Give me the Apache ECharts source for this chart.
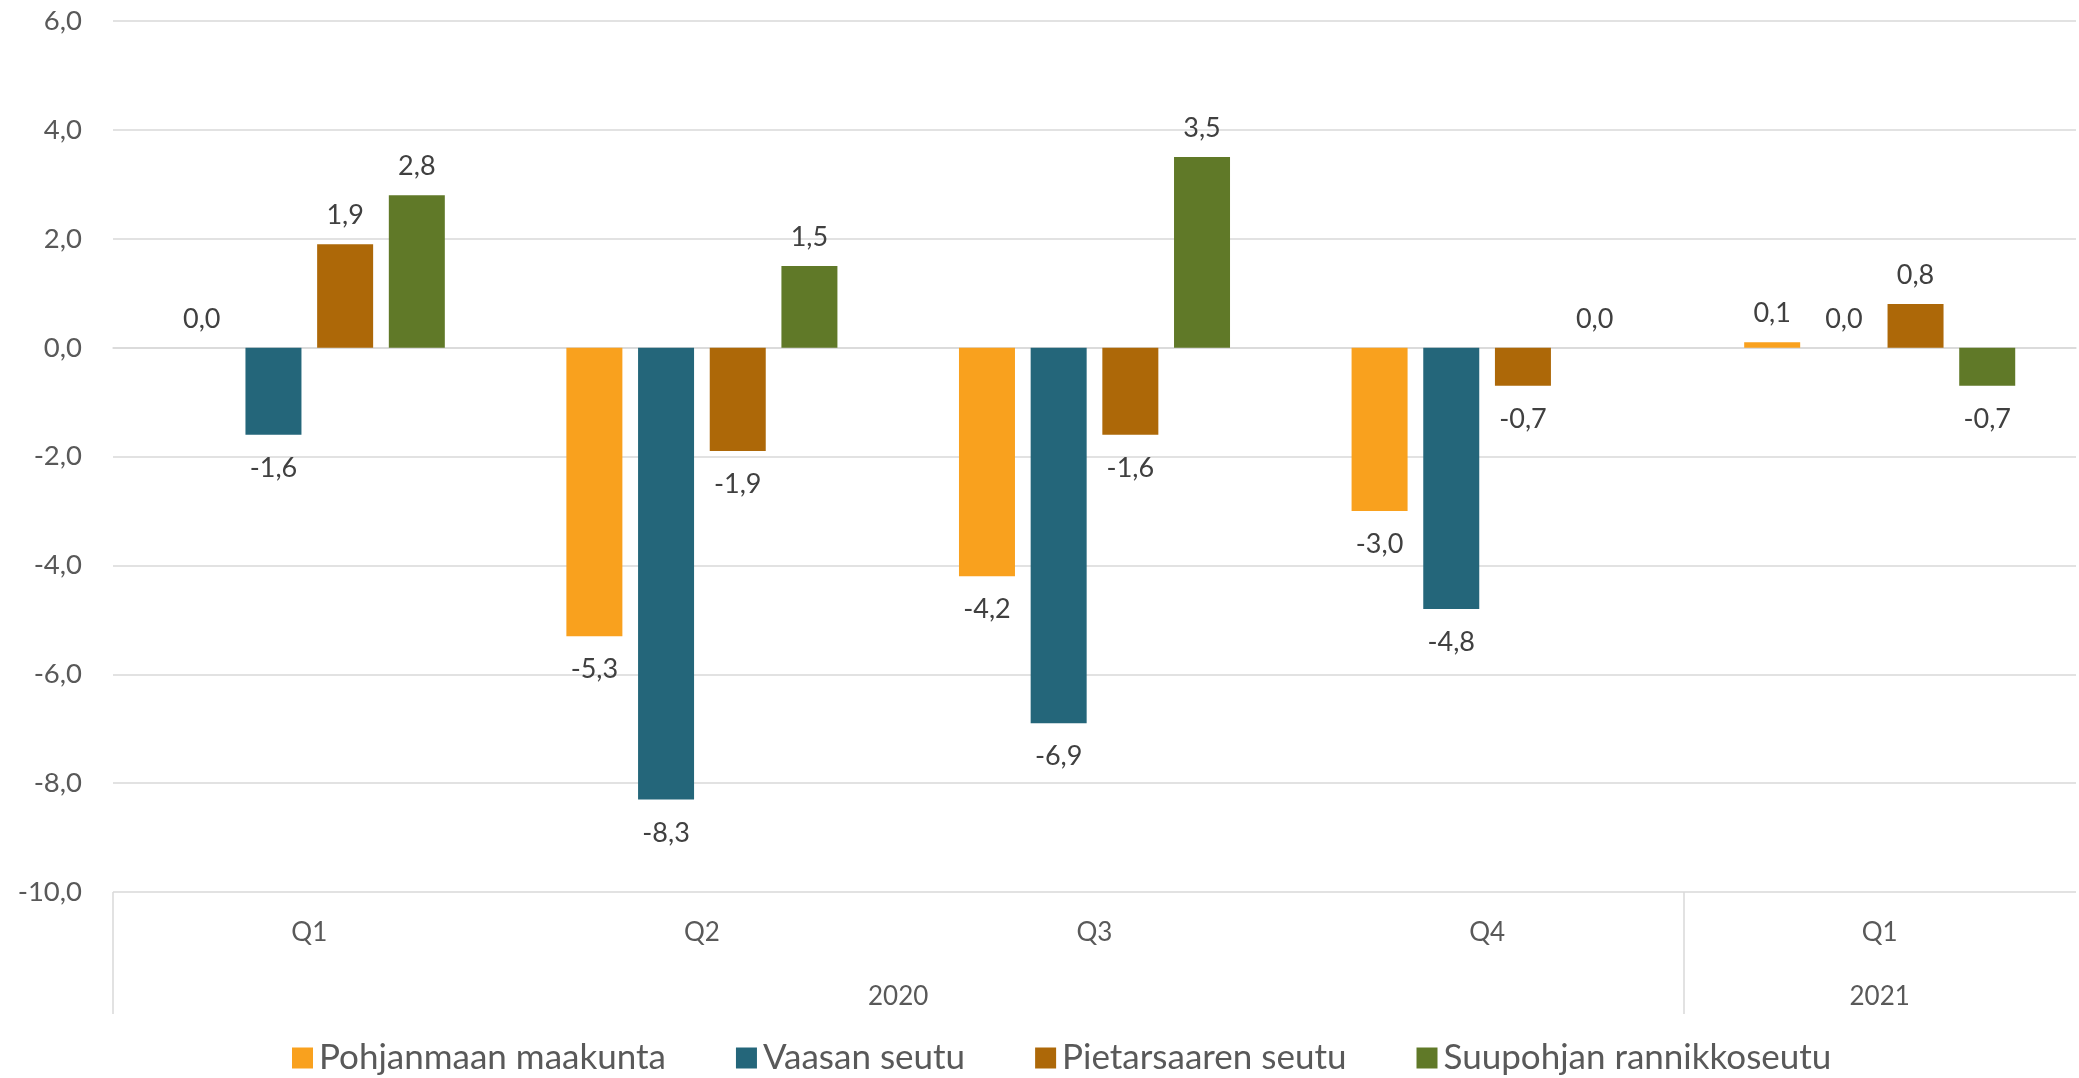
<!DOCTYPE html>
<html>
<head>
<meta charset="utf-8">
<script src="https://cdn.jsdelivr.net/npm/echarts@6/dist/echarts.min.js"></script>
<style>
  html, body { margin: 0; padding: 0; background: #fff; }
  #chart { width: 2079px; height: 1078px; }
</style>
</head>
<body>
<div id="chart"></div>
<script>
var quarters = ['Q1', 'Q2', 'Q3', 'Q4', 'Q1'];
// year labels sit on half-category slots (0, 0.5, 1 ... 5)
var yearSlots = ['', '', '', '', '2020', '', '', '', '', '2021', ''];
var seriesNames = ['Pohjanmaan maakunta', 'Vaasan seutu', 'Pietarsaaren seutu', 'Suupohjan rannikkoseutu'];
var pohjanmaa = [0.0, -5.3, -4.2, -3.0, 0.1];
var vaasa = [-1.6, -8.3, -6.9, -4.8, 0.0];
var pietarsaari = [1.9, -1.9, -1.6, -0.7, 0.8];
var suupohja = [2.8, 1.5, 3.5, 0.0, -0.7];
var colors = ['#F9A11E', '#24667A', '#AD6808', '#607928'];

var font = 'Lato';

function fmt(v) {
    return v.toFixed(1).replace('.', ',');
}

function makeSeries(name, values, color) {
    return {
        name: name,
        type: 'bar',
        xAxisIndex: 0,
        barWidth: 56,
        barGap: '28%',
        itemStyle: { color: color },
        data: values.map(function (v) {
            return {
                value: v,
                label: v < 0 ? { position: 'bottom', distance: 20 } : { position: 'top', distance: 15 }
            };
        }),
        label: {
            show: true,
            color: '#404040',
            fontFamily: font,
            fontSize: 27,
            formatter: function (p) { return fmt(p.value); }
        }
    };
}

var chart = echarts.init(document.getElementById('chart'));
chart.setOption({
    animation: false,
    grid: { left: 113, right: 0, top: 21, bottom: 186 },
    legend: {
        top: 1033,
        left: 287,
        itemWidth: 21,
        itemHeight: 21,
        itemGap: 70,
        icon: 'rect',
        textStyle: { color: '#595959', fontFamily: font, fontSize: 35, lineHeight: 40, padding: [0, 0, 0, 1] },
        data: seriesNames
    },
    xAxis: [{
        type: 'category',
        data: quarters,
        position: 'bottom',
        axisLine: { lineStyle: { color: '#d9d9d9', width: 1.5 } },
        axisTick: { show: false },
        axisLabel: { color: '#595959', fontFamily: font, fontSize: 26, margin: 28 }
    }, {
        type: 'category',
        data: yearSlots,
        boundaryGap: false,
        position: 'bottom',
        axisLine: { show: false },
        axisTick: {
            show: true,
            length: 122,
            lineStyle: { color: '#d9d9d9', width: 1.5 },
            interval: function (i) { return i === 0 || i === 8; }
        },
        axisLabel: { color: '#595959', fontFamily: font, fontSize: 26, margin: 92, interval: 0 }
    }],
    yAxis: {
        type: 'value',
        min: -10,
        max: 6,
        interval: 2,
        axisLine: { show: false },
        axisTick: { show: false },
        splitLine: { lineStyle: { color: '#d9d9d9', width: 1.5 } },
        axisLabel: {
            color: '#595959',
            fontFamily: font,
            fontSize: 27.5,
            margin: 31,
            formatter: function (v) { return fmt(v); }
        }
    },
    series: [
        makeSeries(seriesNames[0], pohjanmaa, colors[0]),
        makeSeries(seriesNames[1], vaasa, colors[1]),
        makeSeries(seriesNames[2], pietarsaari, colors[2]),
        makeSeries(seriesNames[3], suupohja, colors[3])
    ]
});
</script>
</body>
</html>
